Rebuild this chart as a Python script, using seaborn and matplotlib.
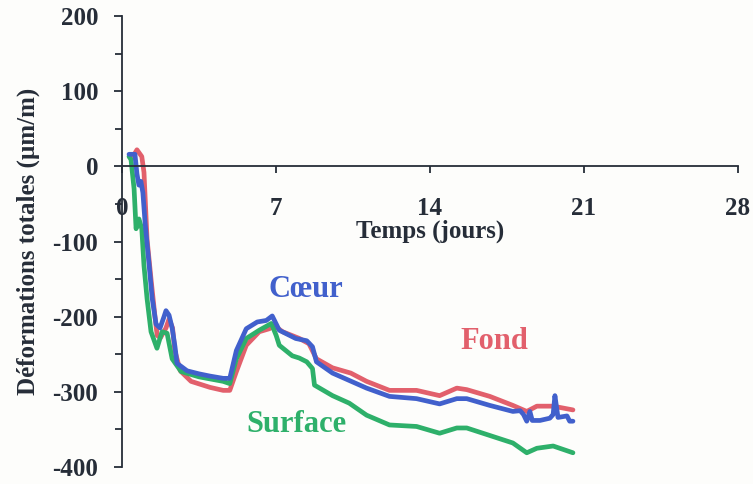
import matplotlib
matplotlib.use("Agg")
import matplotlib.pyplot as plt
from matplotlib.ticker import MultipleLocator
import seaborn as sns
import pandas as pd

# Time (days) and total strain (µm/m) for the three gauges
fond_jours = [0.45, 0.6, 0.68, 0.9, 1.0, 1.14, 1.32, 1.5, 1.6, 1.75, 2.0, 2.14, 2.3, 2.4,
              2.65, 3.14, 4.0, 4.6, 4.9, 5.2, 5.65, 6.24, 6.7, 6.93, 7.3, 8.07, 8.5, 8.84,
              9.57, 10.4, 11.12, 12.16, 13.39, 14.44, 15.22, 15.67, 16.72, 17.77, 18.4,
              18.86, 19.6, 20.5]
fond_def = [10, 18, 22, 13, -8, -97, -150, -200, -225, -228, -215, -203, -215, -245,
            -272, -286, -294, -298, -298, -273, -238, -220, -216, -212, -220, -229, -236, -256,
            -268, -275, -286, -298, -298, -305, -295, -297, -306, -318, -326,
            -319, -319, -324]

coeur_jours = [0.32, 0.59, 0.68, 0.77, 0.86, 0.95, 1.05, 1.23, 1.37, 1.55, 1.73, 1.91, 2.0,
               2.14, 2.28, 2.41, 2.5, 2.96, 3.5, 4.0, 4.6, 4.9, 5.2, 5.65, 6.15, 6.56, 6.83,
               7.15, 7.9, 8.4, 8.66, 8.84, 9.57, 11.12, 12.16, 13.39, 14.44, 15.22, 15.67,
               16.72, 17.77, 18.1, 18.25, 18.4, 18.54, 18.65, 19.0, 19.45, 19.6, 19.68,
               19.82, 20.23, 20.35, 20.5]
coeur_def = [16, 16, -10, -25, -20, -35, -75, -130, -175, -210, -215, -200, -192,
             -198, -215, -240, -262, -272, -276, -279, -282, -282, -245, -216, -207, -205, -199,
             -218, -229, -232, -240, -260, -275, -295, -306, -309, -316, -309, -309,
             -318, -326, -325, -330, -339, -326, -338, -338, -335, -330, -305,
             -334, -332, -339, -339]

surface_jours = [0.32, 0.41, 0.55, 0.64, 0.77, 0.9, 1.0, 1.14, 1.32, 1.59, 1.82, 2.05, 2.28,
                 2.69, 3.5, 4.6, 4.9, 5.2, 5.65, 6.24, 6.79, 7.01, 7.15, 7.74, 8.06, 8.4, 8.66,
                 8.75, 9.57, 10.33, 11.12, 12.16, 13.39, 14.44, 15.22, 15.67, 16.72, 17.77,
                 18.4, 18.86, 19.6, 20.5]
surface_def = [13, 9, -30, -83, -70, -83, -132, -176, -220, -242, -220, -222, -256,
               -273, -280, -286, -289, -256, -229, -218, -209, -225, -238, -252, -255, -260, -269,
               -291, -305, -315, -331, -344, -346, -355, -348, -348, -358, -368,
               -381, -375, -372, -381]

x_ticks = [0, 7, 14, 21, 28]
y_ticks = [200, 100, 0, -100, -200, -300, -400]

couleurs = {"Fond": "#e2606c", "Surface": "#2eb06a", "Cœur": "#4160cc"}
series = [("Fond", fond_jours, fond_def),
          ("Surface", surface_jours, surface_def),
          ("Cœur", coeur_jours, coeur_def)]

sns.set_theme(style="white")
plt.rcParams["font.family"] = ["Liberation Serif", "DejaVu Serif"]
plt.rcParams["font.weight"] = "bold"

ink = "#262d38"
fig = plt.figure(figsize=(7.53, 4.84), dpi=100, facecolor="#fdfdfb")
ax = fig.add_axes([0.162, 0.035, 0.818, 0.932])
ax.set_facecolor("#fdfdfb")

for nom, jours, valeurs in series:
    df = pd.DataFrame({"t": jours, "d": valeurs})
    sns.lineplot(data=df, x="t", y="d", ax=ax, color=couleurs[nom], lw=3.4,
                 estimator=None, sort=False, legend=False)

ax.set_xlim(0, 28)
ax.set_ylim(-400, 200)
ax.set_xticks(x_ticks)
ax.set_xticklabels([str(v) for v in x_ticks])
ax.set_yticks(y_ticks)
ax.set_yticklabels([str(v) for v in y_ticks])
ax.yaxis.set_minor_locator(MultipleLocator(50))

for s in ("top", "right"):
    ax.spines[s].set_visible(False)
ax.spines["bottom"].set_position(("data", 0))
for s in ("left", "bottom"):
    ax.spines[s].set_color(ink)
    ax.spines[s].set_linewidth(1.3)

ax.tick_params(axis="x", which="major", direction="out", length=5, width=1.3,
               color=ink, labelsize=18, labelcolor=ink, pad=17, bottom=True)
ax.tick_params(axis="y", which="major", direction="out", length=6, width=1.3,
               color=ink, labelsize=18, labelcolor=ink, pad=11, left=True)
ax.tick_params(axis="y", which="minor", direction="out", length=5, width=1.3,
               color=ink, left=True)
for lab in ax.get_xticklabels() + ax.get_yticklabels():
    lab.set_fontweight("bold")

ax.set_xlabel("Temps (jours)", fontsize=18, fontweight="bold", color=ink, labelpad=0)
ax.set_ylabel("Déformations totales (µm/m)", fontsize=18, fontweight="bold",
              color=ink, labelpad=9)

# Gauge names written next to their curves
ax.text(8.34, -164, "Cœur", color=couleurs["Cœur"], fontsize=22, fontweight="bold",
        ha="center", va="center")
ax.text(16.95, -233, "Fond", color=couleurs["Fond"], fontsize=22, fontweight="bold",
        ha="center", va="center")
ax.text(7.93, -343, "Surface", color=couleurs["Surface"], fontsize=22, fontweight="bold",
        ha="center", va="center")

fig.savefig("out.png", dpi=100, facecolor=fig.get_facecolor())
